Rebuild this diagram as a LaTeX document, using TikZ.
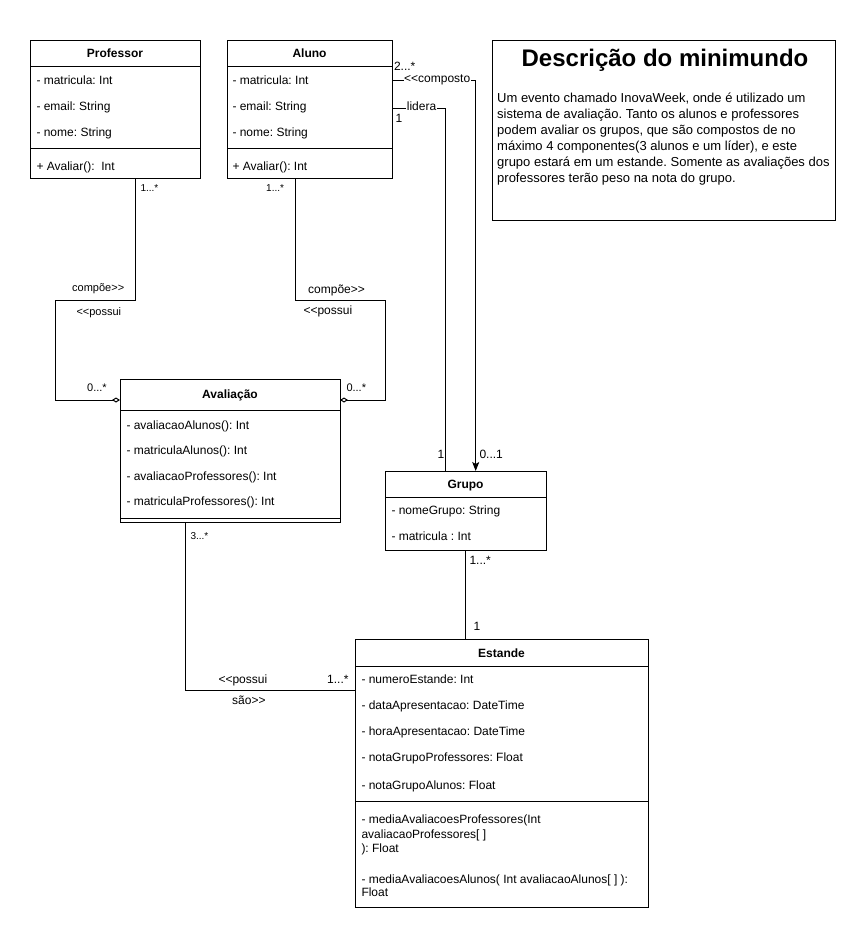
\documentclass[tikz,border=0pt]{standalone}
\usepackage{fontspec}
\newfontfamily\af{Liberation Sans}
\usetikzlibrary{arrows.meta}
\frenchspacing
\begin{document}
\frenchspacing
\begin{tikzpicture}[x=1pt,y=-1pt,line width=1pt,
  cls/.style={draw,rectangle,inner sep=0pt,outer sep=0pt,anchor=north west},
  ttl/.style={font=\af\bfseries\fontsize{12}{14}\selectfont,inner sep=0pt,anchor=base},
  att/.style={font=\af\fontsize{12}{14}\selectfont,inner sep=0pt,anchor=base west},
  lbA/.style={font=\af\fontsize{10}{12}\selectfont,inner sep=0pt,anchor=base west},
  lbB/.style={font=\af\fontsize{11}{13}\selectfont,inner sep=0pt,anchor=base west},
  lbC/.style={font=\af\fontsize{12}{14}\selectfont,inner sep=0pt,anchor=base west},
  onl/.style={font=\af\fontsize{12}{14}\selectfont,inner xsep=0.6pt,inner ysep=1pt,fill=white,anchor=mid},
  dsc/.style={font=\af\fontsize{13}{16}\selectfont,inner sep=0pt,anchor=base west},
  agg/.style={-{Diamond[fill=white,length=8pt,width=5pt]}},
  nav/.style={-{Stealth[length=9pt,width=7pt,inset=2pt]}}]
\useasboundingbox (0,0) rectangle (866,940);

% ---------- Professor ----------
\node[cls,minimum width=170pt,minimum height=138pt] (prof) at (30,40) {};
\draw (prof.north west) ++(0,26) -- ++(170,0);
\draw (prof.north west) ++(0,108) -- ++(170,0);
\node[ttl] (profT) at (115,57.5) {Professor};
\node[att] (profA1) at (36,84) {- matricula: Int};
\node[att] (profA2) at (36,110) {- email: String};
\node[att] (profA3) at (36,136) {- nome: String};
\node[att] (profM1) at (36,170) {+ Avaliar(): \ Int};

% ---------- Aluno ----------
\node[cls,minimum width=165pt,minimum height=138pt] (alu) at (227,40) {};
\draw (alu.north west) ++(0,26) -- ++(165,0);
\draw (alu.north west) ++(0,108) -- ++(165,0);
\node[ttl] (aluT) at (309.5,57.5) {Aluno};
\node[att] (aluA1) at (232,84) {- matricula: Int};
\node[att] (aluA2) at (232,110) {- email: String};
\node[att] (aluA3) at (232,136) {- nome: String};
\node[att] (aluM1) at (232,170) {+ Avaliar(): Int};

% ---------- Avaliacao ----------
\node[cls,minimum width=220pt,minimum height=143pt] (aval) at (120,379) {};
\draw (aval.north west) ++(0,31) -- ++(220,0);
\draw (aval.north west) ++(0,139) -- ++(220,0);
\node[ttl] (avalT) at (230,398.5) {Avaliação};
\node[att] (avalA1) at (126,429) {- avaliacaoAlunos(): Int};
\node[att] (avalA2) at (126,454.5) {- matriculaAlunos(): Int};
\node[att] (avalA3) at (126,480.5) {- avaliacaoProfessores(): Int};
\node[att] (avalA4) at (126,505.5) {- matriculaProfessores(): Int};

% ---------- Grupo ----------
\node[cls,minimum width=161pt,minimum height=79pt] (grp) at (385,471) {};
\draw (grp.north west) ++(0,26) -- ++(161,0);
\node[ttl] (grpT) at (465.5,488) {Grupo};
\node[att] (grpA1) at (391,514.5) {- nomeGrupo: String};
\node[att] (grpA2) at (391,540.5) {- matricula : Int};

% ---------- Estande ----------
\node[cls,minimum width=293pt,minimum height=268pt] (est) at (355,639) {};
\draw (est.north west) ++(0,27) -- ++(293,0);
\draw (est.north west) ++(0,162) -- ++(293,0);
\node[ttl] (estT) at (501.5,657) {Estande};
\node[att] (estA1) at (361,683.5) {- numeroEstande: Int};
\node[att] (estA2) at (361,709) {- dataApresentacao: DateTime};
\node[att] (estA3) at (361,735) {- horaApresentacao: DateTime};
\node[att] (estA4) at (361,761) {- notaGrupoProfessores: Float};
\node[att] (estA5) at (361,789) {- notaGrupoAlunos: Float};
\node[att] (estM1) at (361,823) {- mediaAvaliacoesProfessores(Int};
\node[att] (estM2) at (361,838) {avaliacaoProfessores[ ]};
\node[att] (estM3) at (361,852) {): Float};
\node[att] (estM4) at (361,883) {- mediaAvaliacoesAlunos( Int avaliacaoAlunos[ ] ):};
\node[att] (estM5) at (361,896.5) {Float};

% ---------- Descricao ----------
\node[cls,minimum width=343.7pt,minimum height=180pt] (desc) at (492,40) {};
\node[font=\af\bfseries\fontsize{24}{28}\selectfont,inner sep=0pt,anchor=base] (descT) at (665,66.7) {Descrição do minimundo};
\node[dsc] (d1) at (496.7,102.7) {Um evento chamado InovaWeek, onde é utilizado um};
\node[dsc] (d2) at (496.7,118.7) {sistema de avaliação. Tanto os alunos e professores};
\node[dsc] (d3) at (496.7,134.7) {podem avaliar os grupos, que são compostos de no};
\node[dsc] (d4) at (496.7,150.7) {máximo 4 componentes(3 alunos e um líder), e este};
\node[dsc] (d5) at (496.7,166.7) {grupo estará em um estande. Somente as avaliações dos};
\node[dsc] (d6) at (496.7,182.7) {professores terão peso na nota do grupo.};

% ---------- Connectors ----------
\draw[agg] (135.7,0 |- prof.south) -- (135.7,300) -- (55,300) -- (55,400) -- (aval.west |- 0,400);
\draw[agg] (295,0 |- alu.south) -- (295,300) -- (385,300) -- (385,400) -- (aval.east |- 0,400);
\draw[nav] (alu.east |- 0,80) -- node[onl,pos=0.54] (lcomp) {<<composto} (475.7,80) -- (475.7,0 |- grp.north);
\draw (alu.east |- 0,108.5) -- node[onl,pos=0.55] (llid) {lidera} (445.7,108.5) -- (445.7,0 |- grp.north);
\draw (465.7,0 |- grp.south) -- (465.7,0 |- est.north);
\draw (185.7,0 |- aval.south) -- (185.7,690) -- (est.west |- 0,690);

% ---------- Labels ----------
\node[lbA] (m1) at (140,191) {1...*};
\node[lbA] (m2) at (265.7,191) {1...*};
\node[lbB] (c1) at (71.7,291.7) {compõe>>};
\node[lbB] (p1) at (76,315) {<<possui};
\node[lbC] (c2) at (307.7,293.3) {compõe>>};
\node[lbC] (p2) at (303,314.3) {<<possui};
\node[lbB] (z1) at (86.7,391.7) {0...*};
\node[lbB] (z2) at (346,391.7) {0...*};
\node[lbC] (m3) at (393.5,70.5) {2...*};
\node[lbC] (m4) at (395,122.5) {1};
\node[lbC] (m5) at (437,458.3) {1};
\node[lbC] (m6) at (479,458.3) {0...1};
\node[lbC] (m7) at (469,564) {1...*};
\node[lbC] (m8) at (473,630) {1};
\node[lbA] (m9) at (190,539.3) {3...*};
\node[lbC] (p3) at (218,683.3) {<<possui};
\node[lbC] (s3) at (231.7,704.5) {são>>};
\node[lbC] (m10) at (326.7,683.3) {1...*};
\end{tikzpicture}
\end{document}
